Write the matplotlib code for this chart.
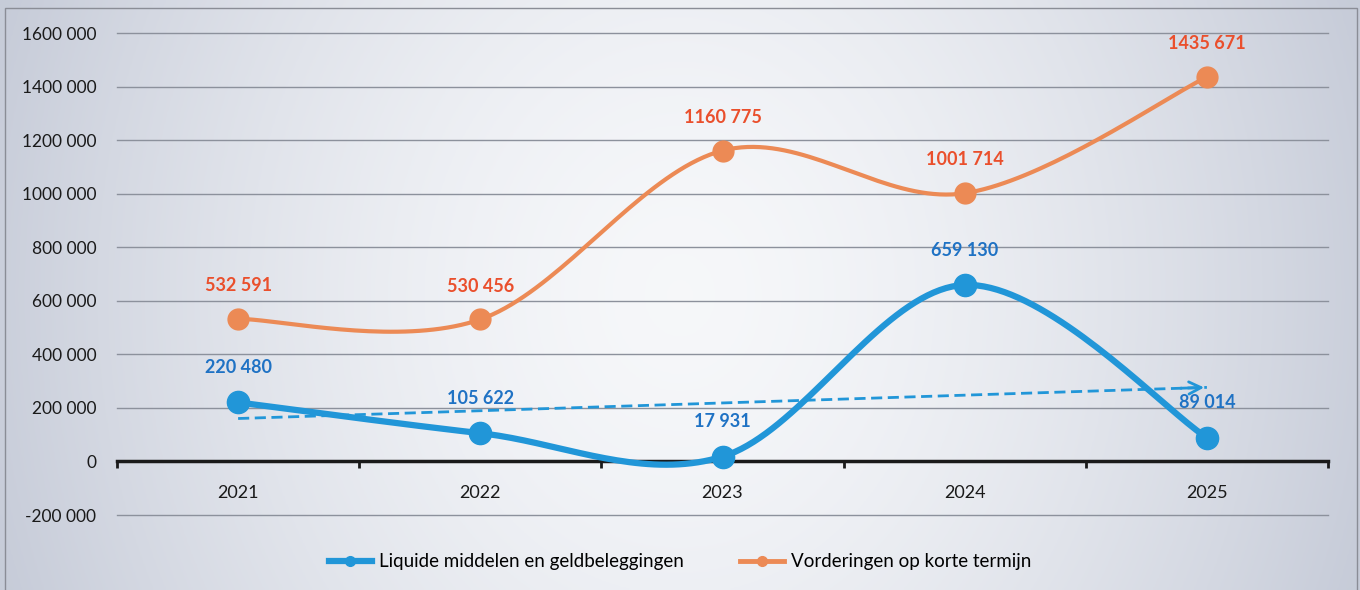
import numpy as np
import matplotlib.pyplot as plt
from matplotlib.patches import Rectangle

years = ['2021', '2022', '2023', '2024', '2025']
liquide = [220480, 105622, 17931, 659130, 89014]
vorderingen = [532591, 530456, 1160775, 1001714, 1435671]
yticks = [-200000, 0, 200000, 400000, 600000, 800000, 1000000, 1200000, 1400000, 1600000]

blue = '#2196d8'
blue_txt = '#1f72c4'
orange = '#ec8a55'
orange_txt = '#ea4f2c'

plt.rcParams['font.family'] = ['Lato', 'DejaVu Sans']


def smooth(xs, ys, n=40):
    # excel-like smoothed line (catmull-rom as cubic bezier)
    xs = np.asarray(xs, float)
    ys = np.asarray(ys, float)
    px = np.concatenate([[xs[0]], xs, [xs[-1]]])
    py = np.concatenate([[ys[0]], ys, [ys[-1]]])
    outx, outy = [], []
    t = np.linspace(0, 1, n)
    for i in range(1, len(px) - 2):
        b0 = np.array([px[i], py[i]])
        b3 = np.array([px[i + 1], py[i + 1]])
        b1 = b0 + (np.array([px[i + 1], py[i + 1]]) - np.array([px[i - 1], py[i - 1]])) / 6
        b2 = b3 - (np.array([px[i + 2], py[i + 2]]) - np.array([px[i], py[i]])) / 6
        pts = ((1 - t) ** 3)[:, None] * b0 + (3 * (1 - t) ** 2 * t)[:, None] * b1 \
            + (3 * (1 - t) * t ** 2)[:, None] * b2 + (t ** 3)[:, None] * b3
        outx.extend(pts[:, 0])
        outy.extend(pts[:, 1])
    return np.array(outx), np.array(outy)


def fmt(v):
    # "1600 000" style: only the last group is split off
    if abs(v) < 1000:
        return str(v)
    sign = '-' if v < 0 else ''
    v = abs(v)
    return f'{sign}{v // 1000} {v % 1000:03d}'


fig = plt.figure(figsize=(13.6, 5.9), dpi=100)

# background gradient
bg = fig.add_axes([0, 0, 1, 1], zorder=-10)
gx = np.linspace(-1, 1, 400)
gy = np.linspace(-1, 1, 200)
GX, GY = np.meshgrid(gx, gy)
r = np.clip(np.sqrt((GX * 0.95) ** 2 + (GY * 0.35) ** 2), 0, 1)
c_in = np.array([0.965, 0.97, 0.98])
c_out = np.array([0.78, 0.80, 0.85])
img = c_in + (c_out - c_in) * (r[..., None] ** 1.6)
bg.imshow(img, aspect='auto', extent=[0, 1, 0, 1])
bg.axis('off')
fig.patches.append(Rectangle((5 / 1360, -0.01), 1352 / 1360, 1 - 8 / 590 + 0.01,
                             transform=fig.transFigure, fill=False,
                             edgecolor='#8a8d96', linewidth=1, zorder=5))

ax = fig.add_axes([117 / 1360, 1 - 515 / 590, 1211 / 1360, 482 / 590])
ax.set_facecolor('none')
x = np.arange(len(years))
ax.set_xlim(-0.5, len(years) - 0.5)
ax.set_ylim(yticks[0], yticks[-1])

for v in yticks:
    if v != 0:
        ax.axhline(v, color='#8c919c', linewidth=1, zorder=1, clip_on=False)

for s in ['top', 'right', 'left']:
    ax.spines[s].set_visible(False)
ax.spines['bottom'].set_position(('data', 0))
ax.spines['bottom'].set_linewidth(2.5)
ax.spines['bottom'].set_color('#1a1a1a')
ax.spines['bottom'].set_zorder(2)

ax.set_yticks(yticks)
ax.set_yticklabels([fmt(v) for v in yticks], fontsize=12.5, color='#1a1a1a')
ax.tick_params(axis='y', length=0, pad=15)
ax.set_xticks(x)
ax.set_xticklabels(years, fontsize=13, color='#1a1a1a')
ax.set_xticks(np.arange(-0.5, len(years)), minor=True)
ax.tick_params(axis='x', which='major', length=0, pad=17)
ax.tick_params(axis='x', which='minor', length=5, width=2, color='#1a1a1a', direction='out')

# orange series
sx, sy = smooth(x, vorderingen)
ax.plot(sx, sy, color=orange, linewidth=3, zorder=3, solid_capstyle='round')
ax.plot(x, vorderingen, 'o', color=orange, markersize=15, zorder=4)
for xi, v in zip(x, vorderingen):
    ax.annotate(fmt(v), (xi, v), xytext=(0, 24), textcoords='offset points',
                ha='center', va='center', fontsize=13, fontweight='bold', color=orange_txt)

# blue series
sx, sy = smooth(x, liquide)
ax.plot(sx, sy, color=blue, linewidth=4.5, zorder=3, solid_capstyle='round')
ax.plot(x, liquide, 'o', color=blue, markersize=16, zorder=4)
for xi, v in zip(x, liquide):
    ax.annotate(fmt(v), (xi, v), xytext=(0, 25), textcoords='offset points',
                ha='center', va='center', fontsize=13, fontweight='bold', color=blue_txt)

# linear trend for liquide
k, b = np.polyfit(x, liquide, 1)
tx = np.array([x[0], x[-1]])
ty = k * tx + b
ax.plot(tx, ty, color=blue, linewidth=2, linestyle=(0, (4, 2)), zorder=3)
ax.annotate('', xy=(tx[1], ty[1]), xytext=(tx[1] - 0.12, ty[1] - k * 0.12),
            arrowprops=dict(arrowstyle='->', color=blue, lw=2, mutation_scale=22), zorder=3)

# legend
h1, = plt.plot([], [], '-o', color=blue, linewidth=4.5, markersize=7)
h2, = plt.plot([], [], '-o', color=orange, linewidth=3.5, markersize=7)
fig.legend([h1, h2], ['Liquide middelen en geldbeleggingen', 'Vorderingen op korte termijn'],
           loc='center', bbox_to_anchor=(0.5, 1 - 562 / 590), ncol=2, frameon=False,
           fontsize=13.5, handlelength=2.3, columnspacing=3.0, handletextpad=0.4)

fig.savefig('out.png', dpi=100)
